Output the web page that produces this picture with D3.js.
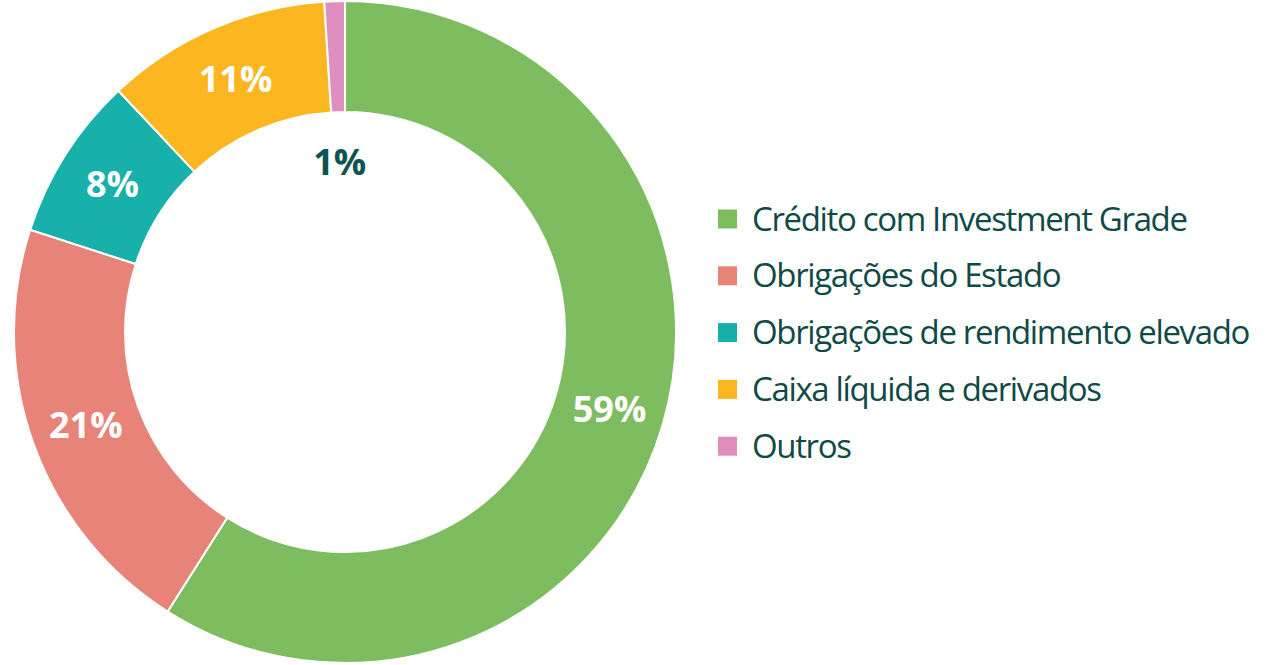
<!DOCTYPE html>
<html>
<head>
<meta charset="utf-8">
<script src="https://cdn.jsdelivr.net/npm/d3@7"></script>
<style>
  body { margin: 0; background: #fff; }
</style>
</head>
<body>
<div id="chart-container"></div>
<script>
const categories = [
  "Crédito com Investment Grade",
  "Obrigações do Estado",
  "Obrigações de rendimento elevado",
  "Caixa líquida e derivados",
  "Outros"
]
const values = [59, 21, 8, 11, 1]
const labels = ["59%", "21%", "8%", "11%", "1%"]
const colors = ["#7dbd5f", "#e8837a", "#17b0aa", "#fbb620", "#e08ebd"]

const w = 1280, h = 665
const cx = 345, cy = 332
const outerR = 331, innerR = 220

const svg = d3.select('#chart-container')
  .append('svg')
  .attr('width', w)
  .attr('height', h)

const pie = d3.pie().sort(null).value(d => d)
const arcs = pie(values)

const arc = d3.arc().innerRadius(innerR).outerRadius(outerR)
// small slices get their label pulled into the hole
const labelArc = d3.arc().innerRadius(innerR).outerRadius(outerR)
const innerLabelArc = d3.arc().innerRadius(170).outerRadius(170)

const g = svg.append('g').attr('transform', `translate(${cx}, ${cy})`)

g.selectAll('path')
  .data(arcs)
  .enter()
  .append('path')
  .attr('d', arc)
  .attr('fill', (d, i) => colors[i])
  .attr('stroke', '#fff')
  .attr('stroke-width', 2)

g.selectAll('text.pct')
  .data(arcs)
  .enter()
  .append('text')
  .attr('class', 'pct')
  .attr('transform', d => {
    const c = d.data < 3 ? innerLabelArc.centroid(d) : labelArc.centroid(d)
    return `translate(${c[0]}, ${c[1]})`
  })
  .attr('text-anchor', 'middle')
  .attr('dy', '0.36em')
  .style('font-family', '"Open Sans", sans-serif')
  .style('font-weight', 700)
  .style('font-size', '36px')
  .attr('fill', d => d.data < 3 ? '#0d5453' : '#fff')
  .text((d, i) => labels[i])

// Legend
const legend = svg.append('g').attr('transform', 'translate(718, 219)')
const rowH = 56.8

const rows = legend.selectAll('g')
  .data(categories)
  .enter()
  .append('g')
  .attr('transform', (d, i) => `translate(0, ${i * rowH})`)

rows.append('rect')
  .attr('x', 0)
  .attr('y', -9.5)
  .attr('width', 19)
  .attr('height', 19)
  .attr('fill', (d, i) => colors[i])

rows.append('text')
  .attr('x', 34)
  .attr('dy', '0.35em')
  .style('font-family', '"Open Sans", sans-serif')
  .style('font-weight', 400)
  .style('font-size', '33px')
  .style('letter-spacing', '-1.35px')
  .attr('fill', '#0f4a47')
  .text(d => d)
</script>
</body>
</html>
